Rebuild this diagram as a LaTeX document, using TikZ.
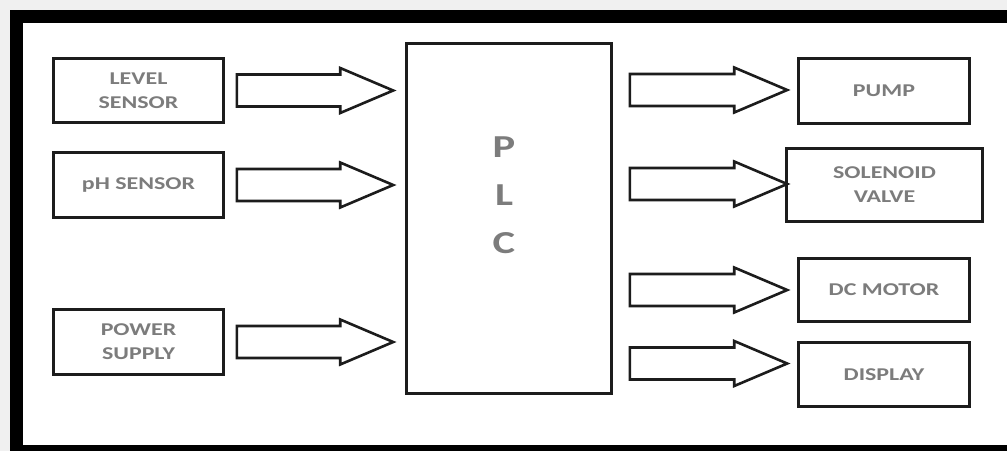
\documentclass[tikz,border=0pt]{standalone}
\usepackage{fontspec}
\setmainfont{Carlito}[FakeStretch=1.33]
\usetikzlibrary{calc}
\definecolor{framegray}{HTML}{F0F0F0}
\definecolor{inkline}{HTML}{1C1C1C}
\definecolor{labelgray}{HTML}{7C7C7C}
\tikzset{
  blockbox/.style={draw=inkline, line width=2.6pt, fill=white, inner sep=0pt,
    minimum width=170pt, minimum height=64pt, align=center, text=labelgray,
    font=\fontsize{18}{24}\selectfont\bfseries},
  barrow/.style={draw=inkline, line width=2.6pt, fill=white, line join=miter},
}
% hollow block arrow from #1 to #2 (shaft 32, head 45 wide, 53 long)
\newcommand{\blockarr}[2]{%
  \draw[barrow] let \p1=(#1), \p2=(#2) in
    (\x1,\y1-16pt) -- (\x2-53pt,\y1-16pt) -- (\x2-53pt,\y1-22.5pt) -- (\x2,\y1)
    -- (\x2-53pt,\y1+22.5pt) -- (\x2-53pt,\y1+16pt) -- (\x1,\y1+16pt) -- cycle;}
\begin{document}
\begin{tikzpicture}[x=1pt,y=-1pt]
  \useasboundingbox (0,0) rectangle (1007,451);
  % frame
  \fill[framegray] (0,0) rectangle (1007,451);
  \fill[black] (10,10) rectangle (1007,451);
  \fill[white] (23,23) rectangle (1007,445);

  % inputs
  \node[blockbox] (lvl) at (138.5,90.5) {LEVEL\\SENSOR};
  \node[blockbox, minimum height=65pt] (ph) at (138.5,185) {pH SENSOR};
  \node[blockbox, minimum height=65pt] (pwr) at (138.5,342) {POWER\\SUPPLY};

  % controller
  \node[blockbox, minimum width=205pt, minimum height=350pt] (plc) at (509,218.5) {};
  \node[text=labelgray, align=center, font=\fontsize{32}{48}\selectfont\bfseries] (plctxt) at (504,195) {P\\L\\C};

  % outputs
  \node[blockbox, minimum width=171pt, minimum height=65pt] (pump) at (884,91) {PUMP};
  \node[blockbox, minimum width=196pt, minimum height=73pt] (sol) at (884.5,185) {SOLENOID\\VALVE};
  \node[blockbox, minimum width=171pt, minimum height=63pt] (dc) at (884,290) {DC MOTOR};
  \node[blockbox, minimum width=171pt, minimum height=64pt] (disp) at (884,374.5) {DISPLAY};

  % input arrows
  \blockarr{$(lvl.east)+(12,0)$}{$(plc.west|-lvl.east)+(-12,0)$}
  \blockarr{$(ph.east)+(12,0)$}{$(plc.west|-ph.east)+(-12,0)$}
  \blockarr{$(pwr.east)+(12,0)$}{$(plc.west|-pwr.east)+(-12,0)$}

  % output arrows
  \blockarr{$(plc.east|-pump.west)+(17,-1)$}{$(pump.west)+(-10,-1)$}
  \blockarr{$(plc.east|-sol.west)+(17,-1)$}{$(pump.west|-sol.west)+(-10,-1)$}
  \blockarr{$(plc.east|-dc.west)+(17,0)$}{$(dc.west)+(-10,0)$}
  \blockarr{$(plc.east|-disp.west)+(17,-11)$}{$(disp.west)+(-10,-11)$}
\end{tikzpicture}
\end{document}
